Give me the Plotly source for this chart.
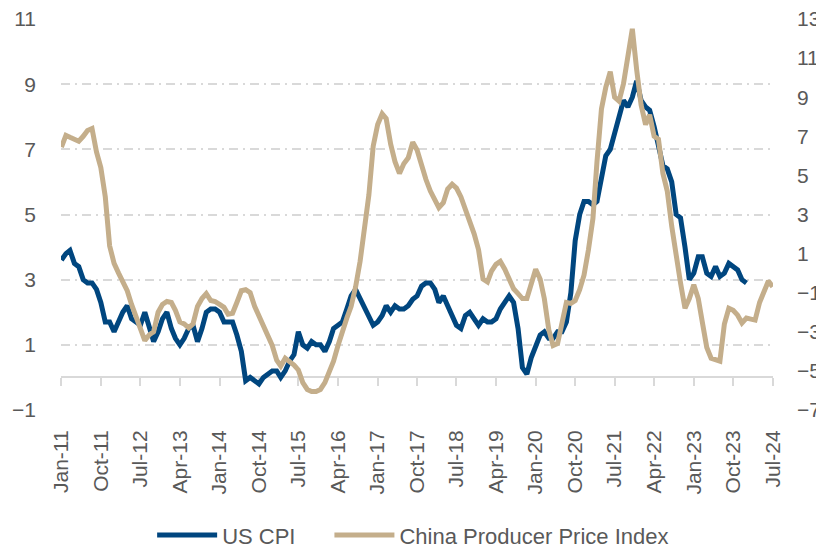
import plotly.graph_objects as go
import pandas as pd

# ---------------- data ----------------
start_month = "2011-01-01"

# US CPI, % y/y (series plotted from Jan-11 to Jan-24)
us_cpi = [
    3.6, 3.8, 3.9, 3.5, 3.4, 3.0, 2.9, 2.9, 2.7, 2.3, 1.7, 1.7,
    1.4, 1.7, 2.0, 2.2, 1.8, 1.7, 1.6, 2.0, 1.5, 1.1, 1.4, 1.8,
    2.0, 1.5, 1.2, 1.0, 1.2, 1.5, 1.6, 1.1, 1.5, 2.0, 2.1, 2.1,
    2.0, 1.7, 1.7, 1.7, 1.3, 0.8, -0.1, 0.0, -0.1, -0.2, 0.0, 0.1,
    0.2, 0.2, 0.0, 0.2, 0.5, 0.7, 1.4, 1.0, 0.9, 1.1, 1.0, 1.0,
    0.8, 1.1, 1.5, 1.6, 1.7, 2.1, 2.5, 2.7, 2.4, 2.2, 1.9, 1.6,
    1.7, 1.9, 2.2, 2.0, 2.2, 2.1, 2.1, 2.2, 2.4, 2.5, 2.8, 2.9,
    2.9, 2.7, 2.3, 2.5, 2.2, 1.9, 1.6, 1.5, 1.9, 2.0, 1.8, 1.6,
    1.8, 1.7, 1.7, 1.8, 2.1, 2.3, 2.5, 2.3, 1.5, 0.3, 0.1, 0.6,
    1.0, 1.3, 1.4, 1.2, 1.2, 1.4, 1.4, 1.7, 2.6, 4.2, 5.0, 5.4,
    5.4, 5.3, 5.4, 6.2, 6.8, 7.0, 7.5, 7.9, 8.5, 8.3, 8.6, 9.1,
    8.5, 8.3, 8.2, 7.7, 7.1, 6.5, 6.4, 6.0, 5.0, 4.9, 4.0, 3.0,
    3.2, 3.7, 3.7, 3.2, 3.1, 3.4, 3.1, 3.2, 3.5, 3.4, 3.3, 3.0,
    2.9,
]

# China Producer Price Index, % y/y (Jan-11 to Jul-24)
china_ppi = [
    6.45, 7.05, 6.95, 6.85, 6.75, 7.0, 7.3, 7.4, 6.2, 5.4, 3.9, 1.4,
    0.5, 0.0, -0.5, -0.9, -1.6, -2.2, -2.9, -3.45, -3.15, -3.0, -2.0, -1.6,
    -1.45, -1.5, -1.9, -2.5, -2.6, -2.8, -2.6, -1.7, -1.3, -1.05, -1.4, -1.45,
    -1.6, -1.75, -2.1, -2.05, -1.5, -0.9, -0.85, -1.0, -1.7, -2.2, -2.7, -3.1,
    -3.7, -4.45, -4.75, -4.35, -4.5, -4.7, -4.95, -5.6, -5.95, -6.05, -6.05, -5.95,
    -5.6, -5.0, -4.5, -3.7, -2.9, -2.3, -1.7, -0.7, 0.6, 2.2, 4.0, 6.5,
    7.6, 8.15, 7.9, 6.6, 5.7, 5.1, 5.6, 5.9, 6.7, 6.3, 5.5, 4.8,
    4.2, 3.7, 3.35, 3.6, 4.3, 4.55, 4.35, 3.9, 3.3, 2.7, 2.0, 1.2,
    -0.3, -0.45, 0.1, 0.45, 0.6, 0.2, -0.3, -0.8, -1.05, -1.3, -1.3, -0.55,
    0.2, -0.3, -1.3, -2.9, -3.7, -3.6, -2.6, -1.5, -1.55, -1.4, -0.85, -0.1,
    1.2, 2.8, 5.7, 8.4, 9.5, 10.3, 9.0, 8.8, 9.7, 11.1, 12.5, 10.4,
    8.6, 7.6, 8.1, 7.0, 6.85, 5.1, 4.2, 2.4, 0.7, -0.5, -1.8, -1.3,
    -0.6, -1.3, -2.5, -3.8, -4.35, -4.45, -4.5, -2.6, -1.8, -1.9, -2.15, -2.55,
    -2.3, -2.35, -2.4, -1.5, -0.9, -0.4, -0.7,
]

tick_labels = ["Jan-11", "Oct-11", "Jul-12", "Apr-13", "Jan-14", "Oct-14",
               "Jul-15", "Apr-16", "Jan-17", "Oct-17", "Jul-18", "Apr-19",
               "Jan-20", "Oct-20", "Jul-21", "Apr-22", "Jan-23", "Oct-23",
               "Jul-24"]

us_dates = pd.date_range(start_month, periods=len(us_cpi), freq="MS")
ppi_dates = pd.date_range(start_month, periods=len(china_ppi), freq="MS")
tick_dates = pd.date_range(start_month, periods=len(tick_labels), freq="9MS")

# ---------------- styles ----------------
BLUE = "#00467F"
TAN = "#C4AE8B"
GRID = "#D9D9D9"
TXT = "#595959"
FONT = "Liberation Sans, Arial, sans-serif"
x_range = ["2010-12-29", "2024-07-03"]

fig = go.Figure()
fig.add_trace(go.Scatter(x=us_dates, y=us_cpi, name="US CPI", mode="lines",
                         line=dict(color=BLUE, width=5), yaxis="y",
                         legend="legend"))
fig.add_trace(go.Scatter(x=ppi_dates, y=china_ppi,
                         name="China Producer Price Index", mode="lines",
                         line=dict(color=TAN, width=5), yaxis="y2",
                         legend="legend2"))
# carrier for the axis line drawn at zero
fig.add_trace(go.Scatter(x=[], y=[], xaxis="x2", yaxis="y",
                         showlegend=False, hoverinfo="skip"))

legend_style = dict(orientation="h", xanchor="left", y=-0.32,
                    yanchor="middle", font=dict(size=22, color=TXT),
                    itemwidth=60, bgcolor="rgba(0,0,0,0)")

fig.update_layout(
    width=816, height=541,
    margin=dict(l=53, r=51, t=11, b=139, autoexpand=False),
    paper_bgcolor="white", plot_bgcolor="white",
    font=dict(family=FONT, size=21, color=TXT),
    showlegend=True,
    legend=dict(x=0.128, **legend_style),
    legend2=dict(x=0.377, **legend_style),
    xaxis=dict(type="date", range=x_range, tickvals=tick_dates,
               ticktext=tick_labels, tickangle=-90, showgrid=False,
               showline=False, zeroline=False, ticks="outside", ticklen=11,
               tickcolor="rgba(0,0,0,0)", tickfont=dict(size=21, color=TXT),
               automargin=False, ticklabeloverflow="allow"),
    xaxis2=dict(type="date", range=x_range, overlaying="x", anchor="free",
                position=1 / 12, tickvals=tick_dates, showticklabels=False,
                showline=True, linecolor=GRID, linewidth=2, ticks="outside",
                ticklen=8, tickwidth=2, tickcolor=GRID, showgrid=False,
                zeroline=False, layer="below traces", automargin=False),
    yaxis=dict(range=[-1, 11], tick0=-1, dtick=2, showgrid=True,
               gridcolor=GRID, gridwidth=2, griddash="9px,5px,2px,5px",
               zeroline=False, showline=False, ticks="",
               ticklabelstandoff=24, tickfont=dict(size=21, color=TXT),
               automargin=False, ticklabeloverflow="allow"),
    yaxis2=dict(range=[-7, 13], tick0=-7, dtick=2, overlaying="y",
                side="right", showgrid=False, zeroline=False, showline=False,
                ticks="", ticklabelstandoff=23,
                tickfont=dict(size=21, color=TXT), automargin=False,
                ticklabeloverflow="allow"),
)

fig.write_html("out.html")
